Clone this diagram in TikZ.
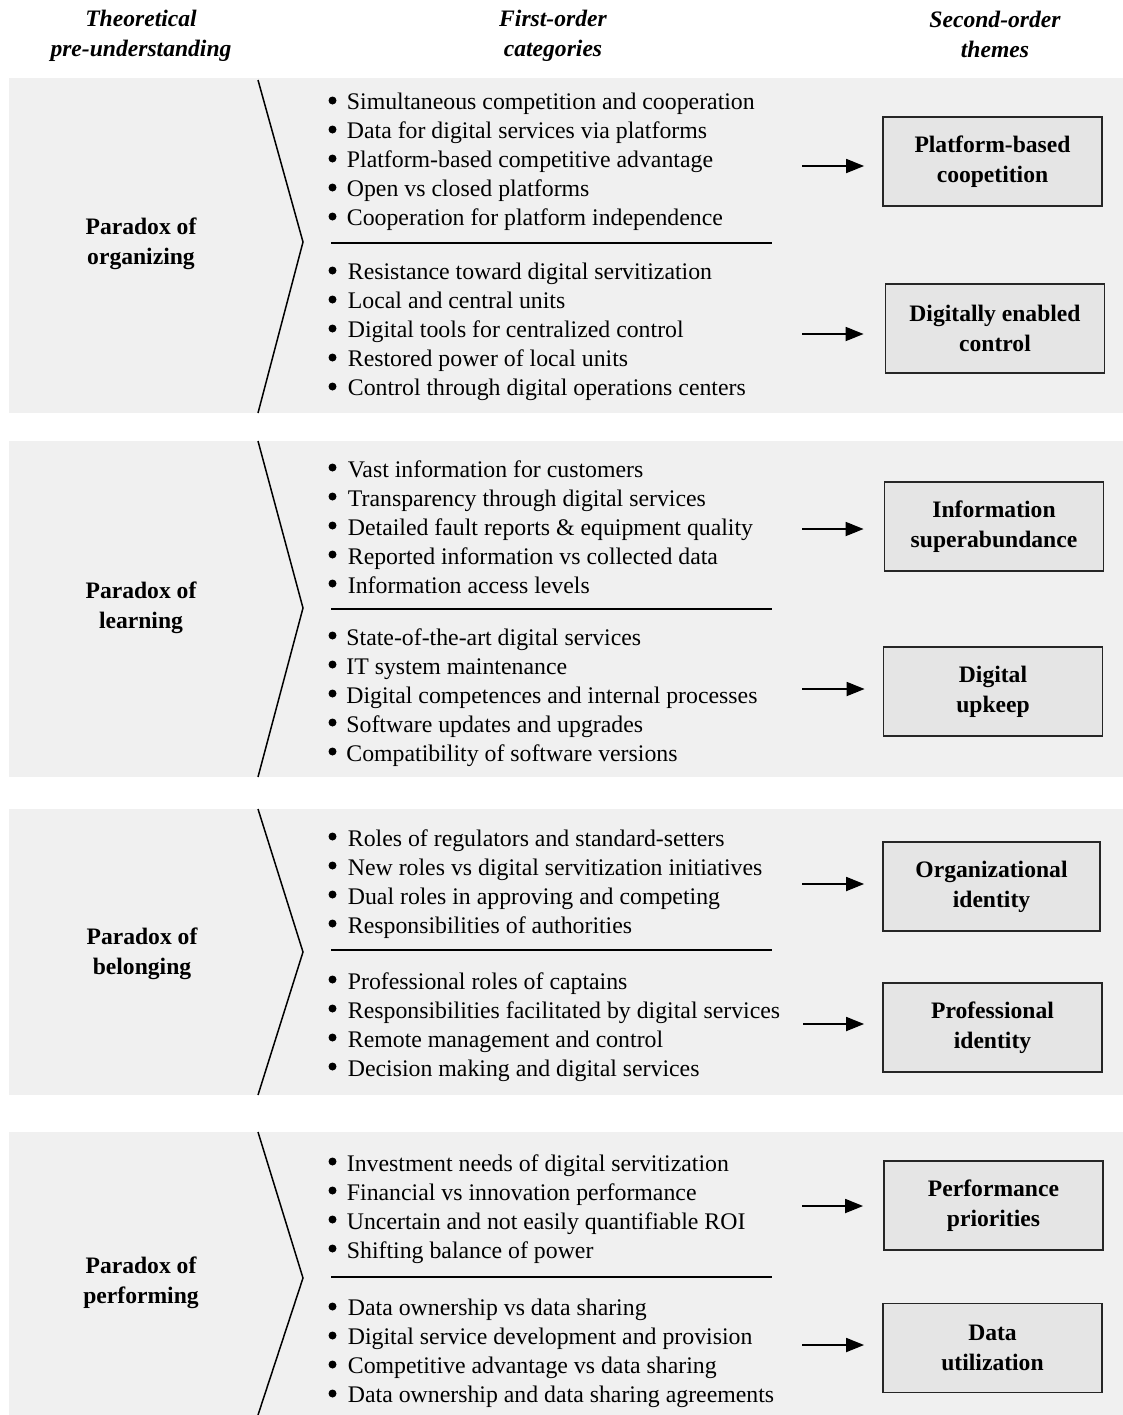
\documentclass[tikz,border=0pt]{standalone}
\usepackage{fontspec}
\setmainfont{Liberation Serif}
\usetikzlibrary{arrows.meta}
\definecolor{panelgray}{HTML}{F0F0F0}
\definecolor{boxgray}{HTML}{E5E5E5}
\tikzset{
	head/.style={font=\fontsize{11.8}{15}\selectfont\bfseries\itshape, align=center, inner sep=0pt},
	paradox/.style={font=\fontsize{11.8}{15}\selectfont\bfseries, align=center, inner sep=0pt},
	items/.style={font=\fontsize{11.9}{14.5}\selectfont, align=left, anchor=north west, inner sep=0pt},
	theme/.style={draw=black!85, line width=0.9pt, fill=boxgray, font=\fontsize{11.8}{15}\selectfont\bfseries, align=center, minimum width=109.5pt, minimum height=44.5pt, inner sep=0pt},
	flow/.style={-{Triangle[length=9pt,width=7pt]}, line width=0.9pt, shorten >=9pt}
}
\begin{document}
\begin{tikzpicture}[x=0.5pt, y=-0.5pt]
				\useasboundingbox (0,0) rectangle (1123,1415);
				% panels
				\fill[panelgray] (9,78) rectangle (1123,413);
				\fill[panelgray] (9,441) rectangle (1123,777);
				\fill[panelgray] (9,809) rectangle (1123,1095);
				\fill[panelgray] (9,1132) rectangle (1123,1415);
				% chevrons
				\draw[line width=0.75pt] (258,80) -- (303,242) -- (258,413);
				\draw[line width=0.75pt] (258,441) -- (303,608) -- (258,777);
				\draw[line width=0.75pt] (258,809) -- (303,952) -- (258,1095);
				\draw[line width=0.75pt] (258,1132) -- (303,1278) -- (258,1415);
				% separators
				\draw[line width=0.75pt] (331,243) -- (772,243);
				\draw[line width=0.75pt] (331,609) -- (772,609);
				\draw[line width=0.75pt] (331,950) -- (772,950);
				\draw[line width=0.75pt] (331,1277) -- (772,1277);
				% headings
				\node[head] (hTheory) at (141,36) {Theoretical\\pre-understanding};
				\node[head] (hFirst) at (553,36) {First-order\\categories};
				\node[head] (hSecond) at (995,34) {Second-order\\themes};
				% paradoxes
				\node[paradox] (pOrg) at (141,244) {Paradox of\\organizing};
				\node[paradox] (pLearn) at (141,607.5) {Paradox of\\learning};
				\node[paradox] (pBelong) at (142,953.5) {Paradox of\\belonging};
				\node[paradox] (pPerform) at (141,1282.5) {Paradox of\\performing};
				% bullets
				\foreach \bl/\cnt in {109/5, 279/5, 476/5, 644/5, 845/4, 988/4, 1170/4, 1315/4}
					\foreach \k in {1,...,\cnt}
						\fill (332.5,{\bl-8.5+(\k-1)*29}) circle (4);
				% first-order categories
				\node[items] (cOrgA) at (346.5,93) {Simultaneous competition and cooperation\\Data for digital services via platforms\\Platform-based competitive advantage\\Open vs closed platforms\\Cooperation for platform independence};
				\node[items] (cOrgB) at (347.5,263) {Resistance toward digital servitization\\Local and central units\\Digital tools for centralized control\\Restored power of local units\\Control through digital operations centers};
				\node[items] (cLearnA) at (347.5,460) {Vast information for customers\\Transparency through digital services\\Detailed fault reports \& equipment quality\\Reported information vs collected data\\Information access levels};
				\node[items] (cLearnB) at (346,628) {State-of-the-art digital services\\IT system maintenance\\Digital competences and internal processes\\Software updates and upgrades\\Compatibility of software versions};
				\node[items] (cBelongA) at (347.5,829) {Roles of regulators and standard-setters\\New roles vs digital servitization initiatives\\Dual roles in approving and competing\\Responsibilities of authorities};
				\node[items] (cBelongB) at (347.5,972) {Professional roles of captains\\Responsibilities facilitated by digital services\\Remote management and control\\Decision making and digital services};
				\node[items] (cPerformA) at (346.5,1154) {Investment needs of digital servitization\\Financial vs innovation performance\\Uncertain and not easily quantifiable ROI\\Shifting balance of power};
				\node[items] (cPerformB) at (347.5,1299) {Data ownership vs data sharing\\Digital service development and provision\\Competitive advantage vs data sharing\\Data ownership and data sharing agreements};
				% second-order themes
				\node[theme] (tCoop) at (992.5,161.5) {Platform-based\\coopetition};
				\node[theme] (tControl) at (995,328.5) {Digitally enabled\\control};
				\node[theme] (tInfo) at (994,526.5) {Information\\superabundance};
				\node[theme] (tUpkeep) at (993,691.5) {Digital\\upkeep};
				\node[theme, minimum width=108.5pt] (tOrgId) at (991.5,886.5) {Organizational\\identity};
				\node[theme] (tProfId) at (992.5,1027.5) {Professional\\identity};
				\node[theme] (tPrio) at (993.5,1205.5) {Performance\\priorities};
				\node[theme] (tData) at (992.5,1348) {Data\\utilization};
				% arrows
				\coordinate (sCoop) at (802,166);
				\coordinate (sControl) at (802,334);
				\coordinate (sInfo) at (802,529);
				\coordinate (sUpkeep) at (802,689);
				\coordinate (sOrgId) at (802,884);
				\coordinate (sProfId) at (803,1024);
				\coordinate (sPrio) at (802,1206);
				\coordinate (sData) at (802,1345);
				\draw[flow] (sCoop) -- (sCoop -| tCoop.west);
				\draw[flow, shorten >=10.5pt] (sControl) -- (sControl -| tControl.west);
				\draw[flow, shorten >=10pt] (sInfo) -- (sInfo -| tInfo.west);
				\draw[flow] (sUpkeep) -- (sUpkeep -| tUpkeep.west);
				\draw[flow] (sOrgId) -- (sOrgId -| tOrgId.west);
				\draw[flow] (sProfId) -- (sProfId -| tProfId.west);
				\draw[flow, shorten >=10pt] (sPrio) -- (sPrio -| tPrio.west);
				\draw[flow] (sData) -- (sData -| tData.west);
			\end{tikzpicture}
\end{document}
